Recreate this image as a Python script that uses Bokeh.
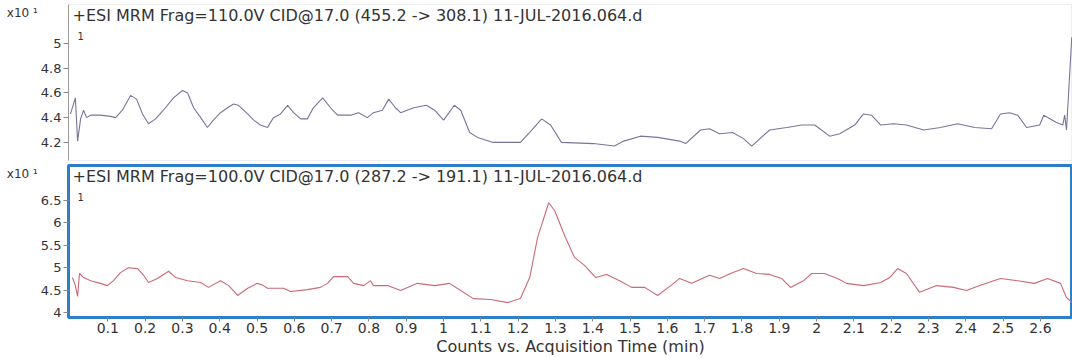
from bokeh.plotting import figure
from bokeh.layouts import column
from bokeh.models import Range1d, FixedTicker, CustomJSTickFormatter, Label
from bokeh.embed import file_html
from bokeh.resources import INLINE

FONT = "DejaVu Sans"

top_title = "+ESI MRM Frag=110.0V CID@17.0 (455.2 -> 308.1) 11-JUL-2016.064.d"
bottom_title = "+ESI MRM Frag=100.0V CID@17.0 (287.2 -> 191.1) 11-JUL-2016.064.d"
x_label = "Counts vs. Acquisition Time (min)"
scale_text = "\nx10 \u00b9"
trace_marker = "1"

x_ticks = [0.1, 0.2, 0.3, 0.4, 0.5, 0.6, 0.7, 0.8, 0.9, 1.0, 1.1, 1.2, 1.3,
           1.4, 1.5, 1.6, 1.7, 1.8, 1.9, 2.0, 2.1, 2.2, 2.3, 2.4, 2.5, 2.6]
top_y_ticks = [4.2, 4.4, 4.6, 4.8, 5.0]
bottom_y_ticks = [4.0, 4.5, 5.0, 5.5, 6.0, 6.5]

top_time = [0.000, 0.013, 0.019, 0.027, 0.035, 0.043, 0.054, 0.080, 0.107, 0.121,
            0.139, 0.161, 0.177, 0.193, 0.209, 0.228, 0.249, 0.276, 0.300, 0.314,
            0.330, 0.349, 0.367, 0.383, 0.402, 0.421, 0.437, 0.450, 0.475, 0.491,
            0.509, 0.528, 0.544, 0.563, 0.582, 0.598, 0.617, 0.635, 0.651, 0.676,
            0.697, 0.716, 0.751, 0.772, 0.796, 0.812, 0.836, 0.853, 0.871, 0.885,
            0.920, 0.954, 0.976, 1.000, 1.029, 1.046, 1.070, 1.091, 1.131, 1.206,
            1.231, 1.263, 1.287, 1.316, 1.402, 1.458, 1.483, 1.528, 1.574, 1.633,
            1.649, 1.689, 1.713, 1.740, 1.775, 1.804, 1.826, 1.874, 1.920, 1.960,
            1.995, 2.035, 2.062, 2.102, 2.126, 2.147, 2.172, 2.206, 2.241, 2.287,
            2.332, 2.378, 2.424, 2.469, 2.493, 2.517, 2.539, 2.563, 2.598, 2.609,
            2.643, 2.660, 2.665, 2.670, 2.684]
top_counts = [4.43, 4.56, 4.21, 4.39, 4.46, 4.40, 4.42, 4.42, 4.41, 4.40,
              4.46, 4.58, 4.55, 4.43, 4.35, 4.39, 4.46, 4.56, 4.62, 4.60,
              4.48, 4.40, 4.32, 4.38, 4.44, 4.48, 4.51, 4.50, 4.43, 4.38,
              4.34, 4.32, 4.40, 4.43, 4.50, 4.44, 4.39, 4.39, 4.48, 4.56,
              4.48, 4.42, 4.42, 4.44, 4.40, 4.44, 4.46, 4.55, 4.48, 4.44,
              4.48, 4.50, 4.46, 4.38, 4.50, 4.46, 4.28, 4.24, 4.20, 4.20,
              4.28, 4.39, 4.34, 4.20, 4.19, 4.17, 4.21, 4.25, 4.24, 4.21,
              4.19, 4.30, 4.31, 4.27, 4.28, 4.23, 4.17, 4.30, 4.32, 4.34,
              4.34, 4.25, 4.27, 4.34, 4.43, 4.42, 4.34, 4.35, 4.34, 4.30,
              4.32, 4.35, 4.32, 4.31, 4.43, 4.44, 4.42, 4.32, 4.34, 4.42,
              4.36, 4.34, 4.42, 4.30, 5.05]

bottom_time = [0.005, 0.013, 0.019, 0.024, 0.035, 0.054, 0.080, 0.099, 0.115, 0.134,
               0.155, 0.180, 0.196, 0.209, 0.233, 0.263, 0.282, 0.314, 0.349, 0.370,
               0.402, 0.424, 0.448, 0.475, 0.501, 0.517, 0.528, 0.571, 0.590, 0.635,
               0.670, 0.689, 0.705, 0.743, 0.759, 0.786, 0.804, 0.812, 0.850, 0.885,
               0.930, 0.976, 1.016, 1.046, 1.080, 1.126, 1.172, 1.206, 1.231, 1.252,
               1.282, 1.298, 1.327, 1.351, 1.378, 1.408, 1.437, 1.472, 1.504, 1.539,
               1.574, 1.609, 1.633, 1.665, 1.713, 1.740, 1.769, 1.804, 1.839, 1.874,
               1.906, 1.930, 1.965, 1.987, 2.021, 2.056, 2.080, 2.126, 2.172, 2.196,
               2.217, 2.241, 2.276, 2.322, 2.367, 2.402, 2.437, 2.493, 2.539, 2.584,
               2.619, 2.654, 2.670, 2.686]
bottom_counts = [4.78, 4.60, 4.36, 4.87, 4.78, 4.71, 4.65, 4.60, 4.71, 4.89,
                 5.00, 4.98, 4.83, 4.67, 4.76, 4.92, 4.78, 4.71, 4.67, 4.56,
                 4.71, 4.60, 4.38, 4.54, 4.65, 4.60, 4.54, 4.54, 4.47, 4.51,
                 4.56, 4.65, 4.80, 4.80, 4.65, 4.60, 4.71, 4.60, 4.60, 4.49,
                 4.65, 4.60, 4.65, 4.49, 4.31, 4.29, 4.22, 4.31, 4.78, 5.67,
                 6.45, 6.27, 5.67, 5.23, 5.05, 4.78, 4.85, 4.71, 4.56, 4.56,
                 4.38, 4.60, 4.76, 4.65, 4.83, 4.76, 4.87, 4.98, 4.87, 4.85,
                 4.76, 4.56, 4.71, 4.87, 4.87, 4.76, 4.65, 4.60, 4.67, 4.78,
                 4.98, 4.87, 4.45, 4.60, 4.56, 4.49, 4.60, 4.76, 4.71, 4.65,
                 4.76, 4.65, 4.33, 4.22]

X_START, X_END = -0.0054, 2.686
TOP_Y = (4.053, 5.316)
BOTTOM_Y = (3.888, 7.281)

fmt = CustomJSTickFormatter(code="return String(Math.round(tick * 10) / 10);")


def make_panel(height, yr, yticks, title, color, xs, ys, border_top, border_bottom,
               show_x, outline_color, outline_width):
    p = figure(width=1072, height=height,
               x_range=Range1d(X_START, X_END), y_range=Range1d(*yr),
               output_backend="svg", toolbar_location=None,
               min_border_left=68, min_border_right=0,
               min_border_top=border_top, min_border_bottom=border_bottom,
               x_axis_location="below" if show_x else None)
    p.background_fill_color = "white"
    p.border_fill_color = "white"
    p.outline_line_color = outline_color
    p.outline_line_width = outline_width
    p.xgrid.grid_line_color = None
    p.ygrid.grid_line_color = None

    p.line(xs, ys, line_color=color, line_width=1.1)

    ya = p.yaxis[0]
    ya.ticker = FixedTicker(ticks=yticks, minor_ticks=[])
    ya.formatter = fmt
    ya.major_label_text_font = FONT
    ya.major_label_text_font_size = "13px"
    ya.major_label_text_color = "#333333"
    ya.major_tick_line_color = "#888888"
    ya.major_tick_out = 5
    ya.major_tick_in = 0
    ya.minor_tick_line_color = None
    ya.major_label_standoff = 2
    ya.axis_line_color = "#999999" if outline_width < 2 else None
    ya.axis_label = scale_text
    ya.axis_label_orientation = "horizontal"
    ya.axis_label_text_font = FONT
    ya.axis_label_text_font_size = "12px"
    ya.axis_label_text_font_style = "normal"
    ya.axis_label_text_color = "#333333"
    ya.axis_label_standoff = 0
    try:
        ya.axis_label_align = "end"
    except AttributeError:
        pass

    if show_x:
        xa = p.xaxis[0]
        xa.ticker = FixedTicker(ticks=x_ticks, minor_ticks=[])
        xa.formatter = fmt
        xa.major_label_text_font = FONT
        xa.major_label_text_font_size = "14px"
        xa.major_label_text_color = "#333333"
        xa.major_tick_line_color = "#888888"
        xa.major_tick_out = 4
        xa.major_tick_in = 0
        xa.minor_tick_line_color = None
        xa.major_label_standoff = 1
        xa.axis_line_color = None
        xa.axis_label = x_label
        xa.axis_label_text_font = FONT
        xa.axis_label_text_font_size = "16px"
        xa.axis_label_text_font_style = "normal"
        xa.axis_label_text_color = "#333333"
        xa.axis_label_standoff = 1

    common = dict(x=X_START, y=yr[1], x_units="data", y_units="data",
                  text_font=FONT, text_color="#333333", text_baseline="middle")
    p.add_layout(Label(text=title, x_offset=4, y_offset=-11, text_font_size="16px", **common))
    p.add_layout(Label(text=trace_marker, x_offset=9, y_offset=-31, text_font_size="10px", **common))
    return p


top = make_panel(162, TOP_Y, top_y_ticks, top_title, "#7d7399", top_time, top_counts,
                 4, 2, False, "#eeeeee", 1)
bottom = make_panel(196, BOTTOM_Y, bottom_y_ticks, bottom_title, "#c96a78", bottom_time,
                    bottom_counts, 3, 0, True, "#2f7fc8", 3)

layout = column(top, bottom, spacing=0)
open("out.html", "w").write(file_html(layout, INLINE))
